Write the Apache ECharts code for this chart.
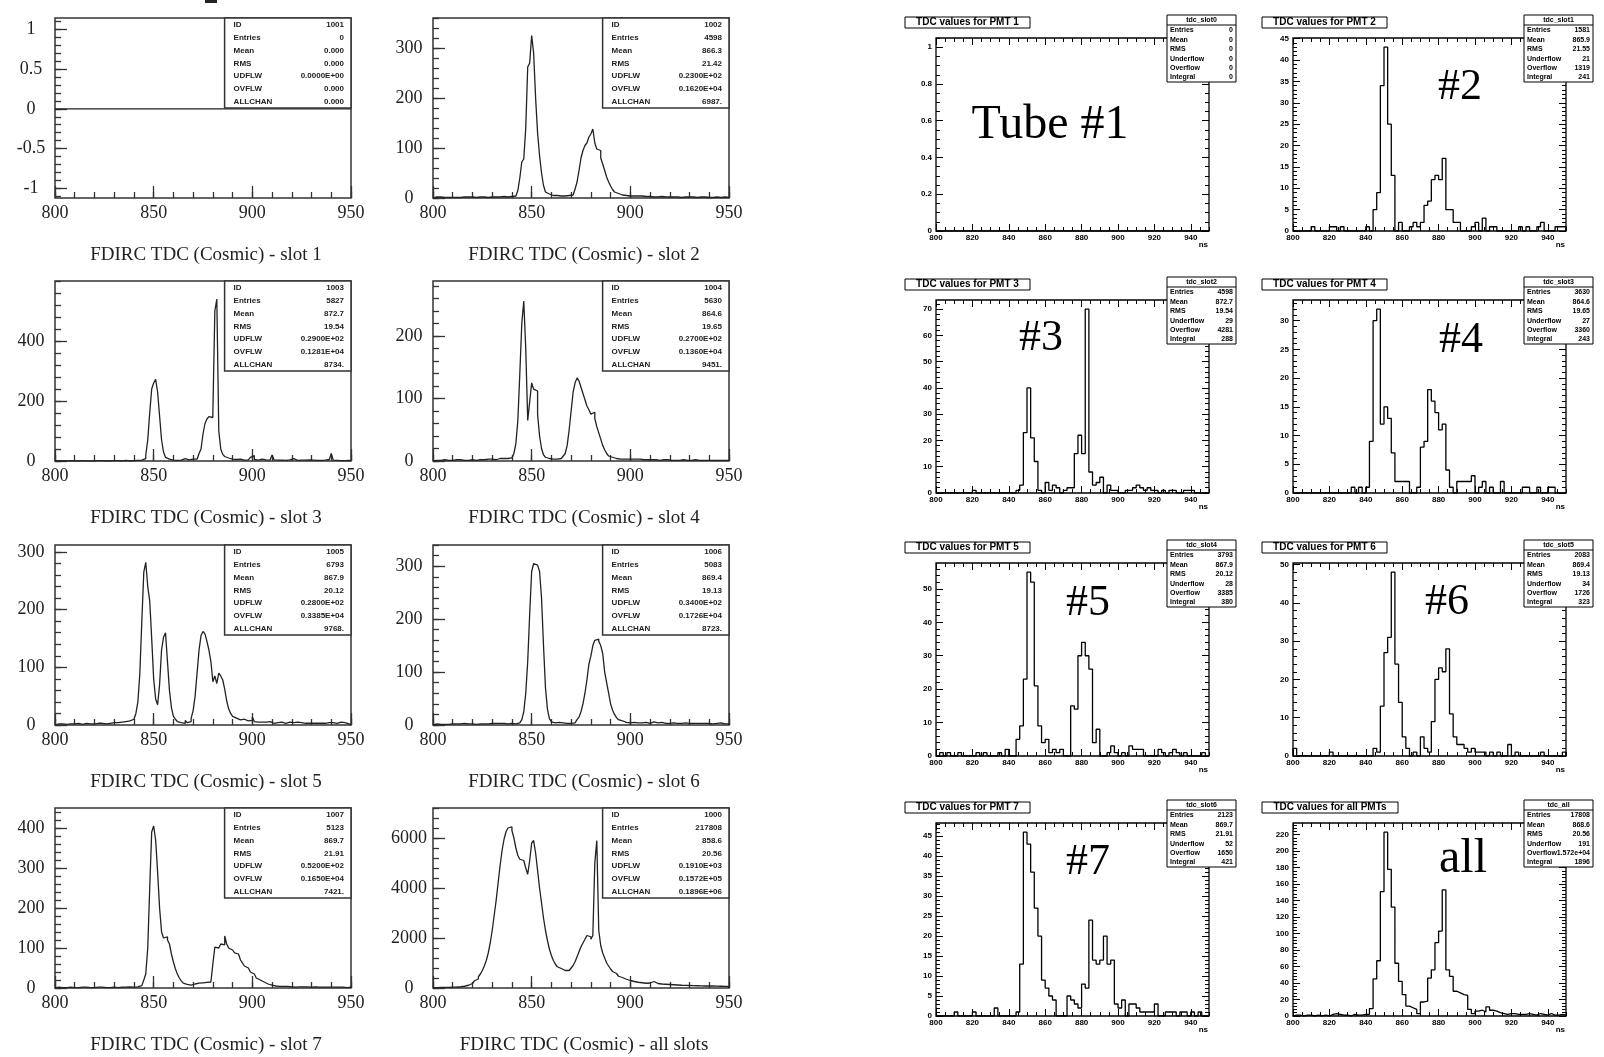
<!DOCTYPE html>
<html>
<head>
<meta charset="utf-8">
<title>FDIRC TDC</title>
<script src="https://cdn.jsdelivr.net/npm/echarts@6.0.0/dist/echarts.min.js"></script>
<style>
  html, body { margin: 0; padding: 0; background: #fff; }
  #main { width: 1604px; height: 1057px; }
</style>
</head>
<body>
<div id="main"></div>
<script>
// ---------- left half: PAW histograms, 1 ns bins starting at 800 ns ----------
const pawStart = 800;
const pawBin = 1;
const pawXTicks = [800, 850, 900, 950];

const slot1Counts = new Array(150).fill(0); // empty histogram
const slot2Counts = [
  1, 2, 1, 2, 1, 1, 2, 1, 2, 1,
  2, 1, 2, 1, 2, 2, 1, 2, 1, 2,
  2, 1, 2, 2, 1, 2, 2, 1, 2, 2,
  2, 2, 1, 2, 2, 3, 2, 2, 3, 3,
  3, 4, 6, 15, 40, 72, 78, 140, 262, 270,
  325, 290, 200, 130, 85, 50, 25, 12, 8, 6,
  5, 4, 5, 3, 4, 5, 4, 6, 5, 8,
  6, 10, 18, 32, 55, 80, 95, 105, 110, 122,
  128, 138, 110, 98, 95, 80, 68, 55, 42, 32,
  24, 17, 12, 9, 7, 6, 5, 5, 4, 4,
  5, 4, 3, 4, 3, 4, 3, 3, 2, 3,
  3, 2, 3, 2, 2, 3, 2, 2, 2, 2,
  2, 2, 1, 2, 2, 1, 2, 2, 1, 2,
  1, 2, 2, 1, 1, 2, 1, 2, 1, 1,
  2, 1, 1, 2, 1, 1, 1, 2, 1, 1
];
const slot3Counts = [
  0, 1, 0, 0, 1, 0, 0, 1, 0, 0,
  1, 0, 0, 1, 0, 0, 1, 0, 1, 0,
  0, 1, 0, 1, 0, 0, 1, 0, 1, 1,
  0, 1, 1, 0, 1, 2, 1, 0, 1, 1,
  1, 2, 2, 3, 5, 8, 20, 70, 160, 240,
  260, 272, 230, 150, 70, 30, 12, 6, 4, 3,
  3, 2, 4, 3, 5, 8, 3, 4, 2, 6,
  5, 6, 10, 25, 40, 90, 125, 140, 148, 145,
  160, 500, 540, 100, 40, 22, 15, 10, 8, 6,
  5, 5, 4, 6, 4, 3, 5, 4, 3, 12,
  18, 5, 3, 4, 6, 3, 4, 5, 3, 6,
  20, 4, 3, 5, 3, 4, 2, 3, 4, 3,
  8, 3, 2, 4, 3, 2, 3, 2, 4, 2,
  3, 2, 2, 3, 2, 2, 3, 2, 5, 2,
  25, 3, 2, 2, 1, 2, 1, 1, 2, 1
];
const slot4Counts = [
  1, 1, 2, 1, 1, 2, 1, 1, 2, 1,
  1, 2, 1, 2, 1, 1, 2, 1, 2, 2,
  2, 1, 2, 2, 3, 2, 2, 3, 2, 3,
  3, 2, 3, 4, 3, 4, 5, 4, 6, 5,
  6, 12, 28, 65, 140, 220, 256, 180, 65, 95,
  125, 115, 112, 75, 40, 20, 10, 6, 4, 3,
  3, 4, 3, 3, 4, 5, 8, 12, 25, 50,
  80, 110, 125, 133, 128, 118, 108, 98, 88, 82,
  75, 78, 68, 55, 45, 35, 25, 18, 12, 8,
  6, 5, 4, 4, 3, 3, 3, 4, 3, 2,
  3, 2, 3, 2, 3, 2, 2, 3, 2, 2,
  2, 3, 2, 2, 1, 2, 2, 1, 2, 2,
  1, 2, 1, 2, 1, 1, 2, 1, 1, 2,
  1, 1, 2, 1, 1, 3, 1, 1, 1, 2,
  1, 1, 1, 2, 1, 1, 1, 1, 1, 1
];
const slot5Counts = [
  1, 2, 1, 2, 2, 1, 3, 2, 1, 2,
  2, 3, 2, 1, 2, 3, 2, 2, 3, 2,
  2, 3, 2, 3, 4, 2, 3, 3, 2, 4,
  3, 4, 3, 5, 4, 6, 5, 7, 8, 10,
  12, 20, 40, 90, 180, 265, 282, 240, 215, 150,
  80, 45, 35, 70, 130, 152, 160, 110, 60, 30,
  15, 10, 6, 4, 5, 3, 8, 4, 6, 12,
  25, 50, 90, 130, 155, 162, 158, 145, 130, 110,
  75, 85, 72, 90, 85, 78, 62, 42, 28, 20,
  15, 12, 10, 9, 8, 10, 8, 7, 6, 8,
  14, 6, 5, 6, 5, 4, 5, 4, 6, 4,
  3, 5, 4, 3, 5, 4, 3, 4, 5, 3,
  4, 3, 5, 3, 4, 4, 3, 5, 3, 4,
  3, 4, 3, 5, 3, 4, 3, 3, 4, 3,
  4, 3, 3, 4, 5, 3, 4, 3, 2, 3
];
const slot6Counts = [
  1, 2, 1, 1, 2, 1, 2, 1, 1, 2,
  1, 2, 1, 2, 1, 3, 1, 2, 1, 2,
  2, 1, 2, 2, 1, 2, 3, 2, 2, 3,
  2, 3, 2, 3, 2, 3, 3, 2, 3, 3,
  3, 2, 3, 4, 6, 10, 25, 60, 120, 210,
  290, 305, 302, 300, 290, 240, 150, 70, 30, 12,
  6, 4, 3, 5, 3, 4, 3, 3, 4, 3,
  3, 4, 6, 10, 15, 25, 40, 60, 85, 115,
  130, 150, 160, 162, 158, 150, 135, 100, 80, 60,
  40, 28, 20, 14, 10, 8, 6, 5, 5, 4,
  4, 5, 6, 4, 5, 4, 3, 5, 4, 3,
  4, 6, 3, 4, 3, 5, 3, 3, 4, 3,
  3, 4, 3, 3, 5, 3, 3, 4, 3, 3,
  3, 3, 4, 3, 3, 3, 4, 3, 2, 3,
  3, 2, 3, 3, 2, 4, 3, 2, 3, 2
];
const slot7Counts = [
  1, 2, 1, 1, 2, 1, 1, 2, 1, 1,
  2, 1, 1, 2, 1, 2, 1, 1, 2, 1,
  1, 2, 1, 2, 2, 1, 2, 1, 2, 2,
  2, 1, 2, 2, 3, 2, 2, 3, 2, 2,
  2, 3, 4, 6, 10, 20, 35, 100, 250, 390,
  405, 370, 290, 200, 140, 125, 128, 120, 110, 85,
  65, 48, 35, 25, 18, 12, 9, 8, 7, 8,
  10, 9, 12, 10, 13, 11, 14, 12, 15, 20,
  60, 102, 100, 105, 110, 108, 130, 110, 100, 95,
  92, 88, 85, 80, 70, 62, 55, 50, 45, 40,
  35, 30, 25, 20, 18, 15, 12, 10, 9, 7,
  6, 5, 5, 4, 5, 4, 3, 4, 3, 3,
  3, 2, 3, 3, 2, 3, 2, 3, 2, 2,
  2, 3, 2, 2, 3, 2, 2, 2, 3, 2,
  2, 2, 3, 2, 2, 2, 2, 1, 2, 2
];
const slotAllCounts = [
  20, 15, 20, 25, 20, 25, 30, 25, 30, 35,
  35, 40, 45, 50, 60, 70, 90, 110, 140, 180,
  230, 290, 360, 450, 560, 700, 880, 1100, 1400, 1800,
  2300, 2900, 3500, 4200, 4900, 5500, 5950, 6250, 6400, 6450,
  6300, 6000, 5600, 5300, 5150, 5100, 5050, 4800, 4550, 5100,
  5800, 5900, 5400, 4700, 4000, 3400, 2800, 2300, 1900, 1550,
  1300, 1100, 950, 850, 780, 720, 700, 690, 700, 720,
  800, 900, 1050, 1250, 1450, 1650, 1800, 1950, 2100, 2050,
  1950, 2100, 5000, 5900, 2300, 1700, 1400, 1200, 1000, 880,
  760, 660, 580, 520, 470, 420, 380, 350, 320, 300,
  280, 260, 250, 230, 220, 210, 200, 190, 190, 200,
  210, 260, 220, 180, 170, 160, 150, 150, 140, 140,
  130, 130, 120, 120, 115, 110, 110, 105, 100, 100,
  95, 95, 90, 90, 90, 85, 85, 80, 80, 80,
  80, 85, 120, 75, 70, 70, 65, 65, 60, 60
];

const slot1YTicks = [-1, -0.5, 0, 0.5, 1];
const slot2YTicks = [0, 100, 200, 300];
const slot3YTicks = [0, 200, 400];
const slot4YTicks = [0, 100, 200];
const slot5YTicks = [0, 100, 200, 300];
const slot6YTicks = [0, 100, 200, 300];
const slot7YTicks = [0, 100, 200, 300, 400];
const slotAllYTicks = [0, 2000, 4000, 6000];

const pawStatLabels = ['ID', 'Entries', 'Mean', 'RMS', 'UDFLW', 'OVFLW', 'ALLCHAN'];
const slot1Stats = ['1001', '0', '0.000', '0.000', '0.0000E+00', '0.000', '0.000'];
const slot2Stats = ['1002', '4598', '866.3', '21.42', '0.2300E+02', '0.1620E+04', '6987.'];
const slot3Stats = ['1003', '5827', '872.7', '19.54', '0.2900E+02', '0.1281E+04', '8734.'];
const slot4Stats = ['1004', '5630', '864.6', '19.65', '0.2700E+02', '0.1360E+04', '9451.'];
const slot5Stats = ['1005', '6793', '867.9', '20.12', '0.2800E+02', '0.3385E+04', '9768.'];
const slot6Stats = ['1006', '5083', '869.4', '19.13', '0.3400E+02', '0.1726E+04', '8723.'];
const slot7Stats = ['1007', '5123', '869.7', '21.91', '0.5200E+02', '0.1650E+04', '7421.'];
const slotAllStats = ['1000', '217808', '858.6', '20.56', '0.1910E+03', '0.1572E+05', '0.1896E+06'];

// ---------- right half: ROOT histograms, 2 ns bins starting at 800 ns ----------
const rootStart = 800;
const rootBin = 2;
const rootXTicks = [800, 820, 840, 860, 880, 900, 920, 940];

const pmt1Counts = new Array(75).fill(0); // no entries
const pmt2Counts = [
  0, 0, 0, 0, 0, 1, 0, 0, 0, 0,
  1, 1, 0, 1, 0, 0, 0, 0, 0, 0,
  1, 0, 5, 9, 34, 43, 25, 13, 0, 2,
  0, 0, 1, 2, 1, 2, 6, 7, 12, 13,
  12, 17, 5, 5, 2, 2, 0, 0, 0, 1,
  2, 0, 3, 0, 1, 1, 0, 0, 0, 0,
  0, 0, 1, 0, 1, 0, 0, 1, 2, 0,
  0, 0, 1, 1, 1
];
const pmt3Counts = [
  0, 0, 0, 0, 0, 0, 0, 0, 0, 0,
  1, 0, 0, 0, 0, 0, 0, 0, 0, 0,
  0, 0, 1, 3, 23, 40, 21, 12, 1, 0,
  4, 1, 3, 2, 0, 1, 2, 2, 15, 22,
  15, 70, 8, 3, 4, 6, 0, 3, 1, 1,
  0, 0, 1, 1, 2, 3, 2, 1, 2, 1,
  1, 0, 1, 0, 1, 1, 0, 0, 1, 1,
  1, 0, 0, 0, 0
];
const pmt4Counts = [
  0, 0, 0, 0, 0, 0, 0, 0, 0, 0,
  0, 0, 0, 0, 0, 0, 1, 0, 1, 0,
  1, 9, 30, 32, 12, 15, 13, 7, 2, 2,
  2, 2, 0, 0, 1, 8, 9, 18, 16, 14,
  11, 12, 4, 1, 0, 2, 2, 2, 2, 3,
  0, 1, 2, 0, 1, 0, 0, 2, 0, 0,
  0, 0, 0, 1, 1, 0, 0, 1, 0, 0,
  1, 1, 0, 0, 0
];
const pmt5Counts = [
  0, 1, 0, 1, 0, 0, 1, 0, 0, 0,
  0, 1, 0, 1, 0, 0, 0, 1, 0, 2,
  0, 0, 5, 9, 23, 55, 52, 21, 9, 4,
  5, 1, 2, 1, 2, 0, 0, 15, 14, 30,
  34, 30, 26, 4, 8, 0, 0, 1, 3, 1,
  0, 1, 0, 3, 2, 2, 2, 0, 0, 0,
  0, 2, 1, 0, 1, 2, 1, 0, 1, 0,
  0, 0, 0, 1, 0
];
const pmt6Counts = [
  2, 0, 0, 0, 0, 0, 0, 0, 0, 0,
  1, 0, 0, 0, 0, 0, 0, 0, 0, 0,
  0, 0, 2, 1, 13, 27, 31, 48, 24, 14,
  5, 2, 0, 1, 0, 5, 2, 1, 9, 20,
  23, 22, 28, 11, 5, 3, 3, 2, 1, 2,
  1, 1, 1, 0, 1, 0, 1, 0, 0, 3,
  0, 1, 0, 0, 0, 0, 0, 0, 1, 0,
  0, 0, 0, 0, 1
];
const pmt7Counts = [
  0, 0, 0, 0, 0, 1, 0, 0, 0, 0,
  1, 0, 0, 0, 0, 0, 2, 0, 0, 0,
  0, 0, 1, 13, 46, 43, 36, 27, 20, 9,
  7, 5, 4, 0, 0, 0, 5, 4, 3, 2,
  8, 7, 24, 14, 13, 14, 20, 13, 14, 3,
  2, 4, 0, 3, 3, 2, 1, 1, 1, 1,
  3, 0, 0, 1, 1, 1, 0, 1, 1, 0,
  1, 0, 1, 0, 0
];
const pmtAllCounts = [
  1, 1, 0, 1, 1, 0, 1, 0, 1, 0,
  2, 3, 2, 1, 1, 0, 2, 1, 1, 2,
  2, 9, 45, 67, 151, 223, 178, 132, 64, 42,
  26, 12, 10, 8, 3, 17, 18, 46, 56, 89,
  103, 153, 56, 48, 30, 28, 26, 25, 8, 3,
  6, 7, 5, 11, 7, 6, 4, 3, 2, 3,
  3, 2, 2, 2, 3, 2, 1, 3, 2, 1,
  3, 1, 1, 2, 1
];

const pmt1YTicks = [0, 0.2, 0.4, 0.6, 0.8, 1];
const pmt2YTicks = [0, 5, 10, 15, 20, 25, 30, 35, 40, 45];
const pmt3YTicks = [0, 10, 20, 30, 40, 50, 60, 70];
const pmt4YTicks = [0, 5, 10, 15, 20, 25, 30];
const pmt5YTicks = [0, 10, 20, 30, 40, 50];
const pmt6YTicks = [0, 10, 20, 30, 40, 50];
const pmt7YTicks = [0, 5, 10, 15, 20, 25, 30, 35, 40, 45];
const pmtAllYTicks = [0, 20, 40, 60, 80, 100, 120, 140, 160, 180, 200, 220];

const rootStatLabels = ['Entries', 'Mean', 'RMS', 'Underflow', 'Overflow', 'Integral'];
const pmt1Stats = ['0', '0', '0', '0', '0', '0'];
const pmt2Stats = ['1581', '865.9', '21.55', '21', '1319', '241'];
const pmt3Stats = ['4598', '872.7', '19.54', '29', '4281', '288'];
const pmt4Stats = ['3630', '864.6', '19.65', '27', '3360', '243'];
const pmt5Stats = ['3793', '867.9', '20.12', '28', '3385', '380'];
const pmt6Stats = ['2083', '869.4', '19.13', '34', '1726', '323'];
const pmt7Stats = ['2123', '869.7', '21.91', '52', '1650', '421'];
const pmtAllStats = ['17808', '868.6', '20.56', '191', '1.572e+04', '1896'];

// ---------- layout ----------
const pawCols = [55, 433], pawWidth = 296, pawHeight = 180;
const pawRows = [18, 281, 545, 808];
const rootCols = [936, 1293], rootWidth = 273, rootHeight = 193;
const rootRows = [38, 300, 563, 823];

const pawPanels = [
  { counts: slot1Counts, yMin: -1.12, yMax: 1.14, yTicks: slot1YTicks, yMinor: 0.1, stats: slot1Stats, title: 'FDIRC TDC (Cosmic) - slot 1' },
  { counts: slot2Counts, yMin: 0, yMax: 360, yTicks: slot2YTicks, yMinor: 20, stats: slot2Stats, title: 'FDIRC TDC (Cosmic) - slot 2' },
  { counts: slot3Counts, yMin: 0, yMax: 600, yTicks: slot3YTicks, yMinor: 40, stats: slot3Stats, title: 'FDIRC TDC (Cosmic) - slot 3' },
  { counts: slot4Counts, yMin: 0, yMax: 288, yTicks: slot4YTicks, yMinor: 20, stats: slot4Stats, title: 'FDIRC TDC (Cosmic) - slot 4' },
  { counts: slot5Counts, yMin: 0, yMax: 312, yTicks: slot5YTicks, yMinor: 20, stats: slot5Stats, title: 'FDIRC TDC (Cosmic) - slot 5' },
  { counts: slot6Counts, yMin: 0, yMax: 340, yTicks: slot6YTicks, yMinor: 20, stats: slot6Stats, title: 'FDIRC TDC (Cosmic) - slot 6' },
  { counts: slot7Counts, yMin: 0, yMax: 450, yTicks: slot7YTicks, yMinor: 20, stats: slot7Stats, title: 'FDIRC TDC (Cosmic) - slot 7' },
  { counts: slotAllCounts, yMin: 0, yMax: 7200, yTicks: slotAllYTicks, yMinor: 400, stats: slotAllStats, title: 'FDIRC TDC (Cosmic) - all slots' }
];

const rootPanels = [
  { counts: pmt1Counts, yMax: 1.05, yTicks: pmt1YTicks, yMinor: 0.05, name: 'tdc_slot0', stats: pmt1Stats, title: 'TDC values for PMT 1', big: 'Tube #1', bigX: 1050, bigY: 125, bigSize: 48 },
  { counts: pmt2Counts, yMax: 45.15, yTicks: pmt2YTicks, yMinor: 1, name: 'tdc_slot1', stats: pmt2Stats, title: 'TDC values for PMT 2', big: '#2', bigX: 1460, bigY: 87, bigSize: 44 },
  { counts: pmt3Counts, yMax: 73.5, yTicks: pmt3YTicks, yMinor: 2, name: 'tdc_slot2', stats: pmt3Stats, title: 'TDC values for PMT 3', big: '#3', bigX: 1041, bigY: 338, bigSize: 44 },
  { counts: pmt4Counts, yMax: 33.6, yTicks: pmt4YTicks, yMinor: 1, name: 'tdc_slot3', stats: pmt4Stats, title: 'TDC values for PMT 4', big: '#4', bigX: 1461, bigY: 340, bigSize: 44 },
  { counts: pmt5Counts, yMax: 57.75, yTicks: pmt5YTicks, yMinor: 2, name: 'tdc_slot4', stats: pmt5Stats, title: 'TDC values for PMT 5', big: '#5', bigX: 1088, bigY: 603, bigSize: 44 },
  { counts: pmt6Counts, yMax: 50.4, yTicks: pmt6YTicks, yMinor: 2, name: 'tdc_slot5', stats: pmt6Stats, title: 'TDC values for PMT 6', big: '#6', bigX: 1447, bigY: 602, bigSize: 44 },
  { counts: pmt7Counts, yMax: 48.3, yTicks: pmt7YTicks, yMinor: 1, name: 'tdc_slot6', stats: pmt7Stats, title: 'TDC values for PMT 7', big: '#7', bigX: 1088, bigY: 862, bigSize: 44 },
  { counts: pmtAllCounts, yMax: 234.15, yTicks: pmtAllYTicks, yMinor: 4, name: 'tdc_all', stats: pmtAllStats, title: 'TDC values for all PMTs', big: 'all', bigX: 1463, bigY: 859, bigSize: 48 }
];

// ---------- helpers ----------
function range(a, b, step) {
  const out = [];
  const n = Math.floor((b - a) / step + 1e-6);
  for (let i = 0; i <= n; i++) out.push(+(a + i * step).toFixed(4));
  return out;
}

// outline of a histogram: one point per bin edge, drawn as a step line
function histPoints(start, width, counts) {
  const pts = [[start, 0]];
  counts.forEach((c, i) => pts.push([start + i * width, c]));
  const end = start + counts.length * width;
  pts.push([end, counts[counts.length - 1]]);
  pts.push([end, 0]);
  return pts;
}

function axis(g, min, max, position, ticks, len, tickStyle, label) {
  return {
    type: 'value', gridIndex: g, min: min, max: max, position: position,
    axisLine: { show: false, onZero: false },
    splitLine: { show: false },
    axisTick: { show: true, inside: true, length: len, customValues: ticks, lineStyle: tickStyle },
    axisLabel: label ? Object.assign({ show: true, customValues: ticks, formatter: v => String(v) }, label) : { show: false }
  };
}

const G = [];
function txt(x, y, text, font, align, color) {
  G.push({ type: 'text', silent: true, z: 100,
    style: { x: x, y: y, text: text, font: font, fill: color || '#000',
      align: align, textAlign: align, verticalAlign: 'middle', textVerticalAlign: 'middle' } });
}
function box(x, y, w, h, stroke, lw) {
  G.push({ type: 'rect', silent: true, z: 99,
    shape: { x: x, y: y, width: w, height: h },
    style: { fill: '#fff', stroke: stroke, lineWidth: lw } });
}
function hline(x1, x2, y, stroke, lw) {
  G.push({ type: 'line', silent: true, z: 100,
    shape: { x1: x1, y1: y, x2: x2, y2: y }, style: { stroke: stroke, lineWidth: lw } });
}

const option = { animation: false, backgroundColor: '#fff', grid: [], xAxis: [], yAxis: [], series: [] };

const pawTick = { color: '#333', width: 1.3 };
const pawXLabel = { fontFamily: 'Liberation Serif', fontSize: 18, color: '#222', margin: 6 };
const pawYLabel = { fontFamily: 'Liberation Serif', fontSize: 18, color: '#222', margin: 24, align: 'center' };
const rootTick = { color: '#000', width: 1 };
const rootXLabel = { fontFamily: 'Liberation Sans', fontWeight: 'bold', fontSize: 8, color: '#000', margin: 3 };
const rootYLabel = { fontFamily: 'Liberation Sans', fontWeight: 'bold', fontSize: 8, color: '#000', margin: 4 };

function addGrid(left, top, width, height, color, lw) {
  option.grid.push({ left: left, top: top, width: width, height: height, show: true,
    borderColor: color, borderWidth: lw, backgroundColor: 'rgba(0,0,0,0)', outerBoundsMode: 'none' });
  return option.grid.length - 1;
}

pawPanels.forEach((p, k) => {
  const left = pawCols[k % 2], top = pawRows[Math.floor(k / 2)];
  const g = addGrid(left, top, pawWidth, pawHeight, '#333', 1.5);
  const xi = option.xAxis.length, yi = option.yAxis.length;
  option.xAxis.push(axis(g, 800, 950, 'bottom', pawXTicks, 12, pawTick, pawXLabel));
  option.xAxis.push(axis(g, 800, 950, 'bottom', range(800, 950, 10), 6, pawTick, null));
  option.yAxis.push(axis(g, p.yMin, p.yMax, 'left', p.yTicks, 12, pawTick, pawYLabel));
  option.yAxis.push(axis(g, p.yMin, p.yMax, 'left',
    range(Math.ceil(p.yMin / p.yMinor) * p.yMinor, p.yMax, p.yMinor), 6, pawTick, null));
  option.series.push({ type: 'line', xAxisIndex: xi, yAxisIndex: yi, step: 'end',
    data: histPoints(pawStart, pawBin, p.counts), symbol: 'none', silent: true,
    lineStyle: { color: '#222', width: 1.3 } });

  // stat box
  const bx = left + pawWidth * 0.573, bw = left + pawWidth - bx, bh = pawHeight * 0.5;
  box(bx, top, bw, bh, '#333', 1.5);
  pawStatLabels.forEach((lab, i) => {
    const y = top + 7 + i * 12.8;
    txt(bx + 9, y, lab, 'bold 8px Liberation Sans', 'left', '#222');
    txt(bx + bw - 7, y, p.stats[i], 'bold 8px Liberation Sans', 'right', '#222');
  });
  // caption under the panel
  txt(left + pawWidth / 2 + 3, top + pawHeight + 57, p.title, '19px Liberation Serif', 'center', '#222');
});

rootPanels.forEach((p, k) => {
  const left = rootCols[k % 2], top = rootRows[Math.floor(k / 2)];
  const g = addGrid(left, top, rootWidth, rootHeight, '#000', 1.3);
  const xi = option.xAxis.length, yi = option.yAxis.length;
  const xMinor = range(800, 950, 5);
  const yMinor = range(0, p.yMax, p.yMinor);
  option.xAxis.push(axis(g, 800, 950, 'bottom', rootXTicks, 7, rootTick, rootXLabel));
  option.xAxis.push(axis(g, 800, 950, 'bottom', xMinor, 4, rootTick, null));
  option.xAxis.push(axis(g, 800, 950, 'top', rootXTicks, 7, rootTick, null));
  option.xAxis.push(axis(g, 800, 950, 'top', xMinor, 4, rootTick, null));
  option.yAxis.push(axis(g, 0, p.yMax, 'left', p.yTicks, 7, rootTick, rootYLabel));
  option.yAxis.push(axis(g, 0, p.yMax, 'left', yMinor, 4, rootTick, null));
  option.yAxis.push(axis(g, 0, p.yMax, 'right', p.yTicks, 7, rootTick, null));
  option.yAxis.push(axis(g, 0, p.yMax, 'right', yMinor, 4, rootTick, null));
  option.series.push({ type: 'line', xAxisIndex: xi, yAxisIndex: yi, step: 'end',
    data: histPoints(rootStart, rootBin, p.counts), symbol: 'none', silent: true,
    lineStyle: { color: '#000', width: 1.3 } });

  // title box
  const tw = p.title.length > 21 ? 136 : 125;
  box(left - 31, top - 21, tw, 11, '#000', 1);
  txt(left - 31 + tw / 2, top - 15.5, p.title, 'bold 10px Liberation Sans', 'center');
  // statistics box
  const sx = left + rootWidth - 42, sy = top - 23, sw = 69;
  box(sx, sy, sw, 67, '#000', 1);
  txt(sx + sw / 2, sy + 5, p.name, 'bold 7px Liberation Sans', 'center');
  hline(sx, sx + sw, sy + 10, '#000', 1);
  rootStatLabels.forEach((lab, i) => {
    const y = sy + 15.5 + i * 9.4;
    txt(sx + 3, y, lab, 'bold 7px Liberation Sans', 'left');
    txt(sx + sw - 3, y, p.stats[i], 'bold 7px Liberation Sans', 'right');
  });
  // axis unit and big label
  txt(left + rootWidth - 1, top + rootHeight + 14, 'ns', 'bold 8px Liberation Sans', 'right');
  txt(p.bigX, p.bigY, p.big, p.bigSize + 'px Liberation Serif', 'center');
});

// small cut-off mark at the top edge of the page
G.push({ type: 'rect', silent: true, z: 100, left: 205, top: 0,
  shape: { width: 12, height: 3 }, style: { fill: '#222' } });

option.graphic = { elements: G };

const chart = echarts.init(document.getElementById('main'), null, { renderer: 'canvas' });
chart.setOption(option);
</script>
</body>
</html>
